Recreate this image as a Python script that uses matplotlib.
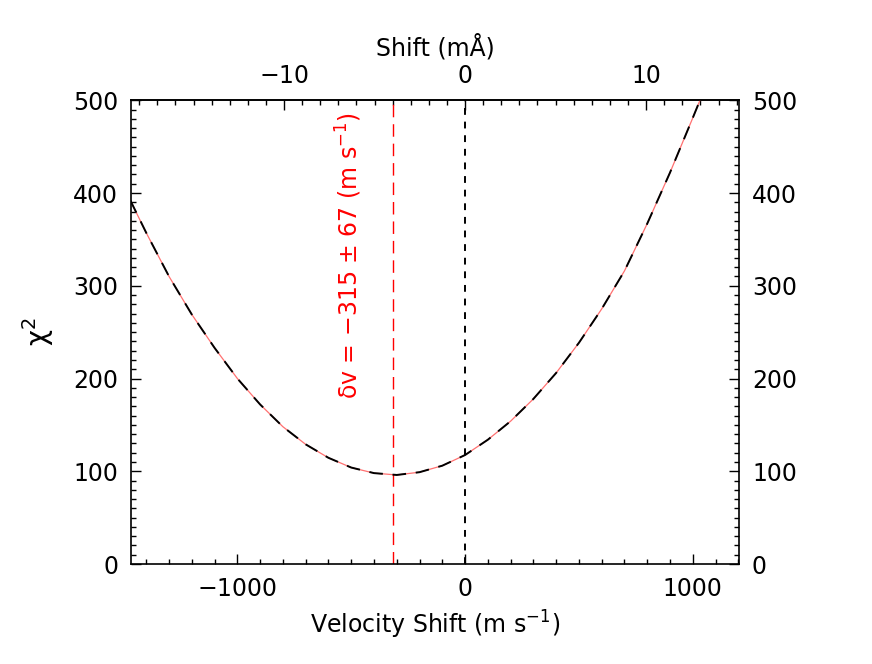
import numpy as np
import matplotlib
matplotlib.use('Agg')
import matplotlib.pyplot as plt

# chi^2 curve
vel = [-1470, -1400, -1300, -1200, -1100, -1000, -900, -800, -700, -600, -500, -400,
       -300, -200, -100, 0, 100, 200, 300, 400, 500, 600, 700, 800, 900, 1000, 1100, 1200]
chi2 = [392, 357, 310, 269, 233, 200, 172, 148, 129, 114.5, 104, 98,
        96, 99, 106, 117.5, 134, 154, 178, 206, 238.5, 275, 316, 367, 422, 481, 541, 606]
chi2_fit = [392, 357, 310, 269, 233, 200, 172, 148, 129, 114.5, 104, 98,
            96, 99, 106, 117.5, 134, 154, 178, 206, 238.5, 275, 316, 367, 422, 481, 541, 606]
dv_best = -315
dv_err = 67
lam0 = 3771.0  # Angstrom, sets the mA top axis
c_ms = 299792458.0

plt.rcParams['font.family'] = ['DejaVu Sans']
plt.rcParams['mathtext.default'] = 'regular'
fs = 17

fig = plt.figure(figsize=(8.72, 6.64), dpi=100)
ax = fig.add_axes([0.150, 0.1506, 0.698, 0.6984])

ax.plot(vel, chi2_fit, color='#ff7070', lw=0.9, zorder=2)
ax.plot(vel, chi2, color='black', lw=1.4, dashes=(7, 5), zorder=3)
ax.axvline(dv_best, color='red', lw=1.0, dashes=(9, 5))
ax.axvline(0, color='black', lw=1.4, dashes=(3.5, 3.5))

ax.set_xlim(-1468, 1205)
ax.set_ylim(0, 500)

ax.text(-510, 333, r'$\delta$v = $-$%d $\pm$ %d (m s$^{-1}$)' % (-dv_best, dv_err),
        rotation=90, color='red', fontsize=fs, ha='center', va='center')

ax.set_xticks([-1000, 0, 1000])
ax.set_xticklabels(['$-$1000', '0', '1000'])
ax.set_xticks(np.arange(-1400, 1201, 100), minor=True)
ax.set_yticks(np.arange(0, 501, 100))
ax.set_yticks(np.arange(0, 501, 10), minor=True)
ax.tick_params(which='both', direction='in', right=True, labelright=True,
               labelsize=fs, width=1.0, pad=9)
ax.tick_params(which='major', length=7)
ax.tick_params(which='minor', length=3.6)
for s in ax.spines.values():
    s.set_linewidth(1.2)

ax.set_xlabel(r'Velocity Shift (m s$^{-1}$)', fontsize=fs, labelpad=6)
ax.set_ylabel(r'$\chi^2$', fontsize=fs + 3, labelpad=12)

sec = ax.secondary_xaxis('top', functions=(lambda v: v / c_ms * lam0 * 1e3,
                                           lambda m: m / (lam0 * 1e3) * c_ms))
sec.set_xticks([-10, 0, 10])
sec.set_xticklabels(['$-$10', '0', '10'])
sec.set_xticks(np.arange(-18, 16, 1), minor=True)
sec.tick_params(which='both', direction='in', labelsize=fs, width=1.0, pad=9)
sec.tick_params(which='major', length=7)
sec.tick_params(which='minor', length=3.6)
sec.spines['top'].set_linewidth(1.2)
sec.set_xlabel('Shift (mÅ)', fontsize=fs, labelpad=6)

fig.savefig('out.png', dpi=100)
